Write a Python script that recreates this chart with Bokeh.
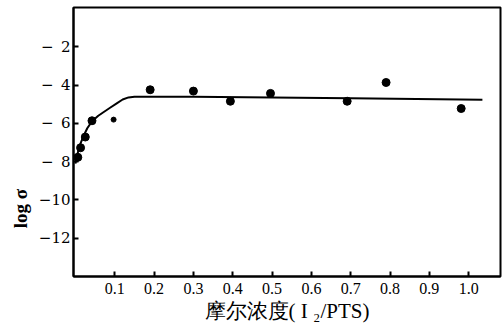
from bokeh.plotting import figure
from bokeh.embed import file_html
from bokeh.resources import INLINE
from bokeh.models import Range1d, FixedTicker

# data
pts_x = [0.006, 0.013, 0.025, 0.042, 0.19, 0.30, 0.394, 0.496, 0.691, 0.79, 0.981]
pts_y = [-7.77, -7.27, -6.71, -5.86, -4.24, -4.31, -4.84, -4.43, -4.84, -3.86, -5.22]
small_x = [0.097]
small_y = [-5.80]
curve_x = [0.0, 0.005, 0.012, 0.02, 0.03, 0.042, 0.058, 0.072, 0.088, 0.105, 0.12, 0.135, 0.15, 0.3, 0.7, 1.035]
curve_y = [-8.1, -7.6, -7.1, -6.68, -6.25, -5.89, -5.6, -5.4, -5.18, -4.95, -4.75, -4.64, -4.6, -4.6, -4.68, -4.76]
x_ticks = [0.1, 0.2, 0.3, 0.4, 0.5, 0.6, 0.7, 0.8, 0.9, 1.0]
x_labels = ["0.1", "0.2", "0.3", "0.4", "0.5", "0.6", "0.7", "0.8", "0.9", "1.0"]
y_ticks = [-2, -4, -6, -8, -10, -12]
y_labels = ["−\u20022", "−\u20024", "−\u20026", "−\u20028", "−10", "−12"]
x_title = "摩尔浓度( I ₂/PTS)"
y_title = "log σ"

p = figure(width=502, height=326, output_backend="svg", toolbar_location=None,
           x_range=Range1d(-0.005, 1.081), y_range=Range1d(-14.0, 0.06),
           min_border_left=73, min_border_right=2, min_border_top=7, min_border_bottom=50)
p.grid.visible = False
p.outline_line_color = "black"
p.outline_line_width = 2
p.background_fill_color = "white"
p.border_fill_color = "white"

p.line(curve_x, curve_y, line_color="black", line_width=2)
p.scatter(pts_x, pts_y, size=8, color="black")
p.scatter(small_x, small_y, size=5, color="black")

for ax in (p.xaxis[0], p.yaxis[0]):
    ax.axis_line_width = 2
    ax.axis_line_color = "black"
    ax.major_tick_in = 5
    ax.major_tick_out = 0
    ax.major_tick_line_width = 2
    ax.minor_tick_line_color = None
    ax.major_label_text_color = "black"
    ax.axis_label_text_color = "black"

p.xaxis.ticker = FixedTicker(ticks=x_ticks)
p.xaxis.major_label_overrides = dict(zip(x_ticks, x_labels))
p.xaxis.major_label_text_font = "Liberation Serif"
p.xaxis.major_label_text_font_size = "16px"
p.xaxis.axis_label = x_title
p.xaxis.axis_label_text_font = "Liberation Serif"
p.xaxis.axis_label_text_font_style = "normal"
p.xaxis.axis_label_text_font_size = "21px"
p.xaxis.major_label_standoff = 6
p.xaxis.axis_label_standoff = 2

p.yaxis.ticker = FixedTicker(ticks=y_ticks)
p.yaxis.major_label_overrides = dict(zip(y_ticks, y_labels))
p.yaxis.major_label_text_font = "DejaVu Serif"
p.yaxis.major_label_text_font_size = "15px"
p.yaxis.major_label_standoff = 3
# trailing em spaces shift the rotated title downwards, as in the original
p.yaxis.axis_label = y_title + "\u2003" * 7
p.yaxis.axis_label_text_font = "Liberation Serif"
p.yaxis.axis_label_text_font_style = "bold"
p.yaxis.axis_label_text_font_size = "19px"
p.yaxis.axis_label_standoff = 5

open("out.html", "w").write(file_html(p, INLINE))
